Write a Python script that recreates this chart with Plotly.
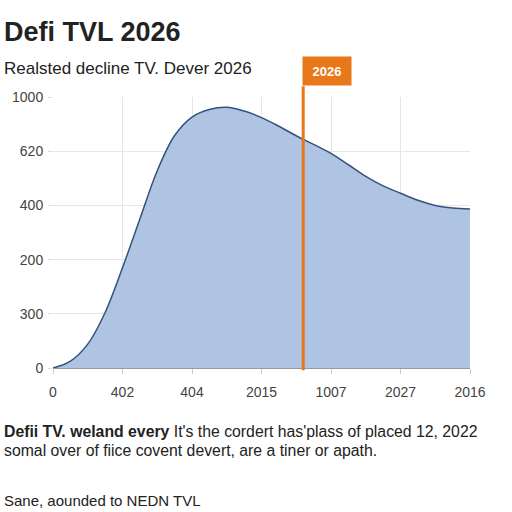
import plotly.graph_objects as go

# Data
x_pos = [0, 0.25, 0.5, 0.75, 1.0, 1.25, 1.5, 1.75, 2.0, 2.25, 2.5, 2.75, 3.0,
         3.25, 3.5, 3.75, 4.0, 4.25, 4.5, 4.75, 5.0, 5.25, 5.5, 5.75, 6.0]
tvl = [0, 25, 88, 205, 370, 550, 728, 858, 926, 954, 962, 948, 924,
       892, 857, 825, 792, 750, 707, 672, 645, 619, 600, 590, 587]
x_tickvals = [0, 1, 2, 3, 4, 5, 6]
x_ticktext = ["0", "402", "404", "2015", "1007", "2027", "2016"]
y_tickvals = [0, 200, 400, 600, 800, 1000]
y_ticktext = ["0", "300", "200", "400", "620", "1000"]
marker_x = 3.6
marker_label = "2026"

ORANGE = "#e8781a"
FONT = "Liberation Sans, Arial, sans-serif"

fig = go.Figure()
fig.add_trace(go.Scatter(
    x=x_pos, y=tvl, mode="lines",
    line=dict(color="#34527a", width=1.5, shape="spline", smoothing=1.0),
    fill="tozeroy", fillcolor="#afc4e2",
    hoverinfo="skip", showlegend=False,
))

fig.add_shape(type="line", xref="x", yref="paper", x0=marker_x, x1=marker_x,
              y0=-0.008, y1=1.04, line=dict(color=ORANGE, width=3))

fig.add_annotation(x=marker_x, xref="x", xanchor="left", xshift=-1.5,
                   y=1.04, yref="paper", yanchor="bottom",
                   text="<b>" + marker_label + "</b>", showarrow=False,
                   font=dict(color="white", size=13, family=FONT),
                   bgcolor=ORANGE, width=40, height=20, borderpad=4)

fig.add_annotation(x=0, xref="paper", xshift=-51, xanchor="left",
                   y=1.24, yref="paper", yanchor="middle",
                   text="<b>Defi TVL 2026</b>", showarrow=False,
                   font=dict(size=27, color="#222", family=FONT))
fig.add_annotation(x=0, xref="paper", xshift=-51, xanchor="left",
                   y=1.107, yref="paper", yanchor="middle",
                   text="Realsted decline TV. Dever 2026", showarrow=False,
                   font=dict(size=17, color="#222", family=FONT))
fig.add_annotation(x=0, xref="paper", xshift=-51, xanchor="left",
                   y=-0.2325, yref="paper", yanchor="middle",
                   text="<b>Defii TV. weland every</b> It's the cordert has'plass of placed 12, 2022",
                   showarrow=False, font=dict(size=15.8, color="#222", family=FONT))
fig.add_annotation(x=0, xref="paper", xshift=-51, xanchor="left",
                   y=-0.3026, yref="paper", yanchor="middle",
                   text="somal over of fiice covent devert, are a tiner or apath.",
                   showarrow=False, font=dict(size=15.8, color="#222", family=FONT))
fig.add_annotation(x=0, xref="paper", xshift=-51, xanchor="left",
                   y=-0.49, yref="paper", yanchor="middle",
                   text="Sane, aounded to NEDN TVL",
                   showarrow=False, font=dict(size=15, color="#222", family=FONT))

fig.update_layout(
    width=512, height=512,
    margin=dict(l=53, r=42, t=97, b=144),
    paper_bgcolor="white", plot_bgcolor="white",
    font=dict(family=FONT, size=14, color="#444"),
    xaxis=dict(range=[0, 6], tickvals=x_tickvals, ticktext=x_ticktext,
               showgrid=True, gridcolor="#e6e6e6", gridwidth=1,
               showline=True, linecolor="#999", linewidth=1,
               ticks="outside", ticklen=5, tickcolor="#ccc", zeroline=False,
               ticklabelstandoff=6, fixedrange=True),
    yaxis=dict(range=[0, 1000], tickvals=y_tickvals, ticktext=y_ticktext,
               showgrid=True, gridcolor="#e6e6e6", gridwidth=1,
               ticks="outside", ticklen=4, tickcolor="#ddd",
               showline=False, zeroline=False, ticklabelstandoff=2,
               fixedrange=True),
)

fig.write_html("out.html")
